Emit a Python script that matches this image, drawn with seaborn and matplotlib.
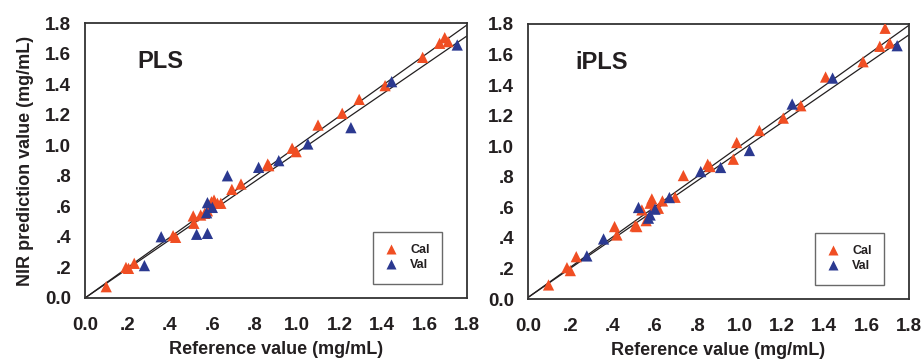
import numpy as np
import pandas as pd
import matplotlib
matplotlib.use("Agg")
import matplotlib.pyplot as plt
import seaborn as sns

# PLS panel
pls_cal_ref = [0.10, 0.193, 0.205, 0.232, 0.415, 0.427, 0.51, 0.513, 0.545, 0.564, 0.577,
               0.596, 0.608, 0.624, 0.64, 0.692, 0.735, 0.861, 0.866, 0.976, 0.995,
               1.098, 1.212, 1.292, 1.414, 1.591, 1.671, 1.695, 1.711]
pls_cal_pred = [0.074, 0.20, 0.194, 0.227, 0.408, 0.397, 0.537, 0.489, 0.543, 0.554, 0.571,
                0.63, 0.641, 0.62, 0.62, 0.711, 0.746, 0.877, 0.866, 0.98, 0.958,
                1.132, 1.209, 1.30, 1.39, 1.575, 1.667, 1.704, 1.678]
pls_val_ref = [0.28, 0.359, 0.526, 0.577, 0.577, 0.573, 0.60, 0.671, 0.818, 0.913, 1.05,
               1.253, 1.445, 1.754]
pls_val_pred = [0.212, 0.401, 0.417, 0.423, 0.624, 0.558, 0.593, 0.80, 0.855, 0.899, 1.008,
                1.115, 1.416, 1.656]

# iPLS panel
ipls_cal_ref = [0.097, 0.184, 0.20, 0.228, 0.409, 0.42, 0.506, 0.514, 0.538, 0.558, 0.577,
                0.585, 0.593, 0.616, 0.635, 0.695, 0.734, 0.849, 0.86, 0.97, 0.986,
                1.093, 1.206, 1.289, 1.406, 1.583, 1.662, 1.687, 1.709]
ipls_cal_pred = [0.092, 0.205, 0.186, 0.277, 0.474, 0.419, 0.478, 0.474, 0.583, 0.513, 0.627,
                 0.655, 0.594, 0.594, 0.642, 0.666, 0.808, 0.882, 0.867, 0.915, 1.024,
                 1.103, 1.184, 1.265, 1.453, 1.553, 1.654, 1.772, 1.675]
ipls_val_ref = [0.278, 0.357, 0.522, 0.569, 0.577, 0.60, 0.668, 0.816, 0.91, 1.046, 1.248,
                1.439, 1.744]
ipls_val_pred = [0.282, 0.393, 0.599, 0.529, 0.55, 0.588, 0.664, 0.834, 0.861, 0.972, 1.276,
                 1.446, 1.658]

# reference lines (slope, intercept): 1:1 line and fitted line
pls_lines = [(0.993, 0.0), (0.953, 0.0)]
ipls_lines = [(0.99, 0.01), (0.955, 0.01)]

ticks = [0.0, 0.2, 0.4, 0.6, 0.8, 1.0, 1.2, 1.4, 1.6, 1.8]
tick_labels = ["0.0", ".2", ".4", ".6", ".8", "1.0", "1.2", "1.4", "1.6", "1.8"]

sns.set_style("white")
plt.rcParams['font.family'] = ['Liberation Sans', 'DejaVu Sans']
plt.rcParams['font.weight'] = 'bold'

colors = {"Cal": "#F04E23", "Val": "#2B3990"}
txt = "#231F20"


def make_df(cal_x, cal_y, val_x, val_y):
    d1 = pd.DataFrame({"ref": cal_x, "pred": cal_y, "set": "Cal"})
    d2 = pd.DataFrame({"ref": val_x, "pred": val_y, "set": "Val"})
    return pd.concat([d1, d2], ignore_index=True)


fig = plt.figure(figsize=(9.24, 3.6), dpi=100)
ax1 = fig.add_axes([85 / 924, 62 / 360, 382 / 924, 275 / 360])
ax2 = fig.add_axes([528 / 924, 61 / 360, 381 / 924, 275 / 360])

panels = [
    (ax1, make_df(pls_cal_ref, pls_cal_pred, pls_val_ref, pls_val_pred), pls_lines, "PLS", 0.245),
    (ax2, make_df(ipls_cal_ref, ipls_cal_pred, ipls_val_ref, ipls_val_pred), ipls_lines, "iPLS", 0.225),
]

for ax, df, lines, name, tx in panels:
    xs = np.array([0.0, 1.8])
    for slope, icpt in lines:
        ax.plot(xs, slope * xs + icpt, color="#231F20", lw=0.9, zorder=1)
    sns.scatterplot(data=df, x="ref", y="pred", hue="set", palette=colors,
                    marker="^", s=66, edgecolor="none", ax=ax, zorder=3, legend=True)
    ax.set_xlim(0, 1.8)
    ax.set_ylim(0, 1.8)
    ax.set_xticks(ticks)
    ax.set_xticklabels(tick_labels)
    ax.set_yticks(ticks)
    ax.set_yticklabels(tick_labels)
    ax.tick_params(axis="both", direction="out", length=4, width=1, color="#333333",
                   labelsize=13.5, labelcolor=txt)
    ax.tick_params(axis="x", pad=10)
    ax.tick_params(axis="y", pad=6)
    for sp in ax.spines.values():
        sp.set_color("#333333")
        sp.set_linewidth(1.3)
    ax.set_xlabel("Reference value (mg/mL)", fontsize=13, fontweight="bold", color=txt, labelpad=5)
    ax.set_ylabel("")
    ax.text(tx, 1.545, name, fontsize=17, fontweight="bold", color=txt, va="center", ha="left")
    leg = ax.legend(loc="lower right", bbox_to_anchor=(0.935, 0.051), borderaxespad=0,
                    frameon=True, fancybox=False, fontsize=9, title=None,
                    handlelength=1.0, handletextpad=1.0, borderpad=1.0,
                    labelspacing=0.25, markerscale=0.9)
    leg.get_frame().set_edgecolor("#444444")
    leg.get_frame().set_linewidth(1.0)
    for t in leg.get_texts():
        t.set_fontweight("bold")
        t.set_color(txt)

ax1.set_ylabel("NIR prediction value (mg/mL)", fontsize=13, fontweight="bold", color=txt, labelpad=8)

fig.savefig("out.png", dpi=100)
